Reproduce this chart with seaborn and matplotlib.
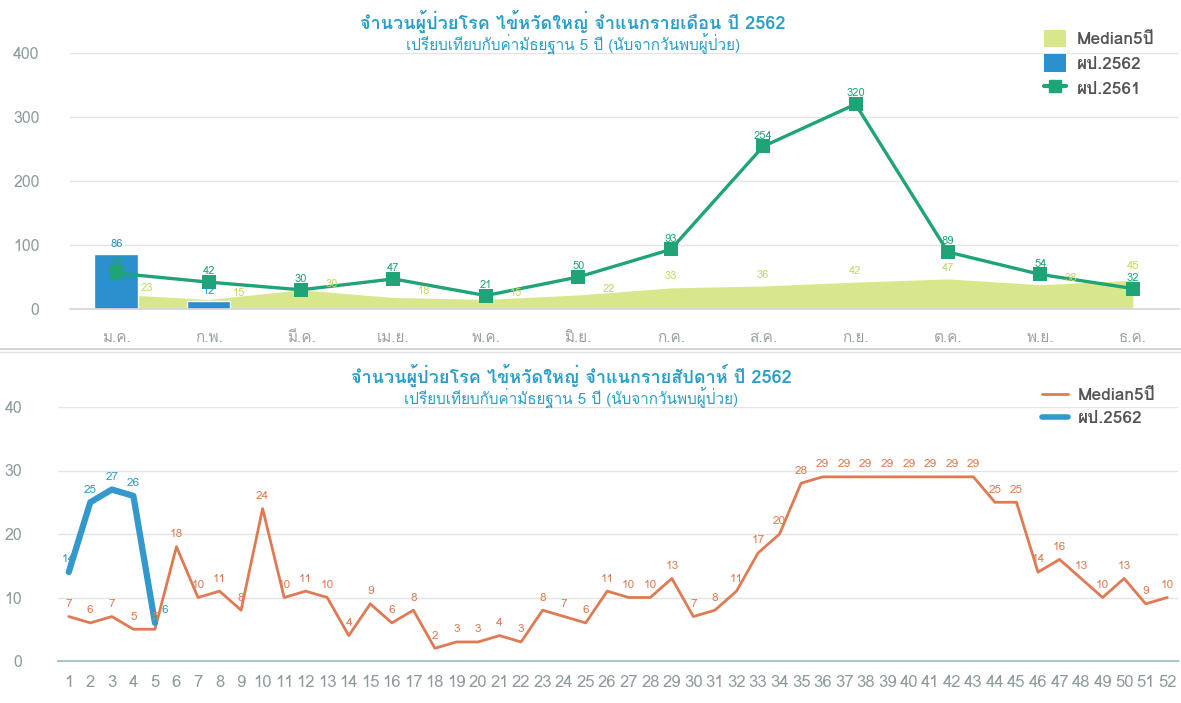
import numpy as np
import pandas as pd
import matplotlib
matplotlib.use("Agg")
import matplotlib.pyplot as plt
import matplotlib.font_manager as fm
from matplotlib.ft2font import FT2Font
from matplotlib.patches import Patch
from matplotlib.lines import Line2D
import seaborn as sns

# ---------------- data ----------------
months = ["ม.ค.", "ก.พ.", "มี.ค.", "เม.ย.", "พ.ค.", "มิ.ย.",
          "ก.ค.", "ส.ค.", "ก.ย.", "ต.ค.", "พ.ย.", "ธ.ค."]
median_month = [23, 15, 30, 18, 15, 22, 33, 36, 42, 47, 38, 45]
cases2562_month = [86, 12, None, None, None, None, None, None, None, None, None, None]
cases2561_month = [56, 42, 30, 47, 21, 50, 93, 254, 320, 89, 54, 32]

weeks = list(range(1, 53))
median_week = [7, 6, 7, 5, 5, 18, 10, 11, 8, 24, 10, 11, 10, 4, 9, 6, 8, 2, 3, 3,
               4, 3, 8, 7, 6, 11, 10, 10, 13, 7, 8, 11, 17, 20, 28, 29, 29, 29, 29, 29,
               29, 29, 29, 25, 25, 14, 16, 13, 10, 13, 9, 10]
cases2562_week = [14, 25, 27, 26, 6]

title_top = "จำนวนผู้ป่วยโรค ไข้หวัดใหญ่ จำแนกรายเดือน ปี 2562"
title_bot = "จำนวนผู้ป่วยโรค ไข้หวัดใหญ่ จำแนกรายสัปดาห์ ปี 2562"
subtitle = "เปรียบเทียบกับค่ามัธยฐาน 5 ปี (นับจากวันพบผู้ป่วย)"

# ---------------- fonts ----------------
sns.set_theme(style="white")


def find_thai_font():
    seen = set()
    for f in fm.fontManager.ttflist:
        if f.fname in seen:
            continue
        seen.add(f.fname)
        try:
            cmap = FT2Font(f.fname).get_charmap()
        except Exception:
            continue
        if 0x0E08 in cmap and 0x0E1C in cmap and 0x0E4C in cmap:
            return f.name
    return None


thai = find_thai_font()
fams = ([thai] if thai else []) + ["DejaVu Sans"]
plt.rcParams["font.family"] = fams

C_MED = "#d8e78c"
C_MED_TXT = "#c6d765"
C_BLUE = "#2b8fce"
C_GREEN = "#1fa477"
C_ORANGE = "#e07a52"
C_BLUE2 = "#3399cc"
C_TITLE = "#2a9ec9"
C_TICK = "#8d9b9d"
C_GRID = "#e4e4e4"

fig = plt.figure(figsize=(11.81, 7.03), dpi=100)

# ---------------- top chart ----------------
ax1 = fig.add_axes([70 / 1181, 1 - 309 / 703, 1109 / 1181, 256 / 703])
x_m = np.arange(len(months))
df_m = pd.DataFrame({"month": months, "median": median_month,
                     "c62": [np.nan if v is None else v for v in cases2562_month],
                     "c61": cases2561_month, "x": x_m})

ax1.fill_between(x_m, 0, median_month, color=C_MED, lw=0, zorder=1)
sns.barplot(data=df_m, x="month", y="c62", order=months, color=C_BLUE,
            width=0.47, saturation=1, ax=ax1, zorder=2)
sns.lineplot(data=df_m, x="x", y="c61", color=C_GREEN, lw=2.4, marker="s",
             markersize=10, markeredgewidth=0, ax=ax1, zorder=4)

LBL_H = 17  # approximate label height in data units


def overlaps(a0, b_ranges):
    return any(a0 < b1 and a0 + LBL_H > b0 for b0, b1 in b_ranges)


for xi, v, g, b in zip(x_m, median_month, cases2561_month, cases2562_month):
    busy = [(g + 9, g + 9 + LBL_H), (g - 8, g + 8)]
    if b is not None:
        busy.append((b + 8, b + 8 + LBL_H))
    y, dx, ha = v + 10, 0.0, "center"
    if overlaps(y, busy):
        if xi < len(months) - 1:
            y, dx, ha = v + 2, 0.26, "left"
        else:
            y = g + 9 + LBL_H + 2
    ax1.text(xi + dx, y, str(v), ha=ha, va="bottom", fontsize=8, color=C_MED_TXT, zorder=5)
for xi, v in zip(x_m, cases2561_month):
    ax1.text(xi, v + 9, str(v), ha="center", va="bottom", fontsize=8, color=C_GREEN, zorder=6)
for xi, v in zip(x_m, cases2562_month):
    if v is not None:
        ax1.text(xi, v + 8, str(v), ha="center", va="bottom", fontsize=8, color=C_BLUE, zorder=6)

ax1.set_xlim(-0.5, len(months) - 0.5)
ax1.set_ylim(0, 400)
ax1.set_yticks([0, 100, 200, 300, 400])
ax1.yaxis.grid(True, color=C_GRID, lw=1)
ax1.set_axisbelow(True)
ax1.set_xticks(x_m)
ax1.set_xticklabels(months)
ax1.set_xticks(np.arange(-0.5, len(months)), minor=True)
ax1.tick_params(axis="x", which="major", length=0, pad=16, labelsize=11, labelcolor="#9aa3a5")
ax1.tick_params(axis="x", which="minor", length=14, color="#dddddd", width=1)
ax1.tick_params(axis="y", length=0, pad=22, labelsize=11.5, labelcolor=C_TICK)
ax1.set_xlabel("")
ax1.set_ylabel("")
for s in ["top", "right", "left"]:
    ax1.spines[s].set_visible(False)
ax1.spines["bottom"].set_color("#d6d6d6")
ax1.spines["bottom"].set_linewidth(1.2)

fig.text(573 / 1181, 1 - 21 / 703, title_top, ha="center", va="center",
         fontsize=13, fontweight="bold", color=C_TITLE)
fig.text(573 / 1181, 1 - 44 / 703, subtitle, ha="center", va="center",
         fontsize=11, color=C_TITLE)

leg1 = [Patch(facecolor=C_MED, edgecolor="none", label="Median5ปี"),
        Patch(facecolor=C_BLUE, edgecolor="none", label="ผป.2562"),
        Line2D([0], [0], color=C_GREEN, lw=3, marker="s", markersize=8, label="ผป.2561")]
fig.legend(handles=leg1, loc="upper left", bbox_to_anchor=(1028 / 1181, 1 - 14 / 703),
           frameon=False, handlelength=1.3, handleheight=1.2,
           labelspacing=0.4, handletextpad=0.6, labelcolor="#555555",
           prop={"weight": "bold", "size": 12.5})

# separator
fig.add_artist(Line2D([0, 1], [1 - 349 / 703, 1 - 349 / 703], color="#cccccc", lw=1.2))
fig.add_artist(Line2D([0, 1], [1 - 352 / 703, 1 - 352 / 703], color="#e2e2e2", lw=1.0))

# ---------------- bottom chart ----------------
ax2 = fig.add_axes([58 / 1181, 1 - 661 / 703, 1120 / 1181, 254 / 703])
df_w = pd.DataFrame({"week": weeks, "median": median_week})
df_b = pd.DataFrame({"week": weeks[:len(cases2562_week)], "cases": cases2562_week})

sns.lineplot(data=df_w, x="week", y="median", color=C_ORANGE, lw=2.0, ax=ax2, zorder=3)
sns.lineplot(data=df_b, x="week", y="cases", color=C_BLUE2, lw=4.5, ax=ax2, zorder=4)

for w, v in zip(weeks, median_week):
    ax2.text(w, v + 1.2, str(v), ha="center", va="bottom", fontsize=8.5, color=C_ORANGE, zorder=5)
for i, (w, v) in enumerate(zip(weeks, cases2562_week)):
    dx, ha = (0.3, "left") if i == len(cases2562_week) - 1 else (0.0, "center")
    ax2.text(w + dx, v + 1.2, str(v), ha=ha, va="bottom", fontsize=8.5, color=C_BLUE2, zorder=6)

ax2.set_xlim(0.5, 52.5)
ax2.set_ylim(0, 40)
ax2.set_yticks([0, 10, 20, 30, 40])
ax2.yaxis.grid(True, color=C_GRID, lw=1)
ax2.set_axisbelow(True)
ax2.set_xticks(weeks)
ax2.set_xticks(np.arange(0.5, 53), minor=True)
ax2.tick_params(axis="x", which="major", length=0, pad=10, labelsize=12, labelcolor=C_TICK)
ax2.tick_params(axis="x", which="minor", length=10, color="#dddddd", width=1)
ax2.tick_params(axis="y", length=0, pad=26, labelsize=11.5, labelcolor=C_TICK)
ax2.set_xlabel("")
ax2.set_ylabel("")
for s in ["top", "right", "left"]:
    ax2.spines[s].set_visible(False)
ax2.spines["bottom"].set_color("#a9c6c8")
ax2.spines["bottom"].set_linewidth(1.5)

fig.text(571 / 1181, 1 - 375 / 703, title_bot, ha="center", va="center",
         fontsize=13, fontweight="bold", color=C_TITLE)
fig.text(571 / 1181, 1 - 398 / 703, subtitle, ha="center", va="center",
         fontsize=11, color=C_TITLE)

leg2 = [Line2D([0], [0], color=C_ORANGE, lw=2, label="Median5ปี"),
        Line2D([0], [0], color=C_BLUE2, lw=4, label="ผป.2562")]
fig.legend(handles=leg2, loc="upper left", bbox_to_anchor=(1026 / 1181, 1 - 372 / 703),
           frameon=False, handlelength=1.5, labelspacing=0.45, handletextpad=0.6,
           labelcolor="#555555", prop={"weight": "bold", "size": 12.5})

fig.savefig("out.png", dpi=100, facecolor="white")
